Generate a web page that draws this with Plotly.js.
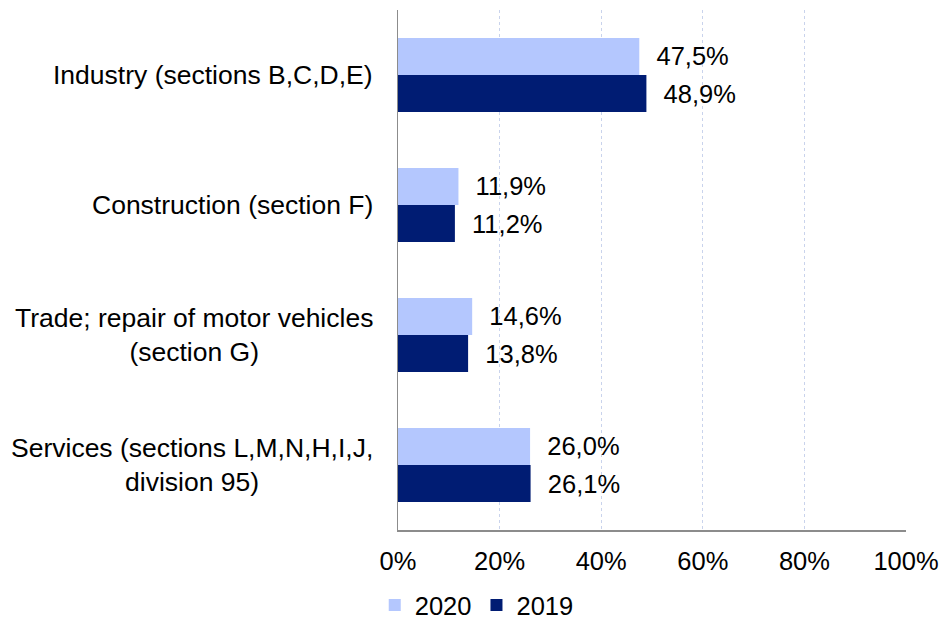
<!DOCTYPE html>
<html>
<head>
<meta charset="utf-8">
<script src="https://cdn.plot.ly/plotly-3.0.1.min.js"></script>
<style>
  html, body { margin: 0; padding: 0; background: #fff; }
  #chart { width: 944px; height: 619px; }
</style>
</head>
<body>
<div id="chart"></div>
<script>
// sectors, top to bottom
var sectors = [
  "Industry (sections B,C,D,E)",
  "Construction (section F)",
  "Trade; repair of motor vehicles<br>(section G)",
  "Services (sections L,M,N,H,I,J,<br>division 95)"
];
var share2020 = [47.5, 11.9, 14.6, 26.0];
var share2019 = [48.9, 11.2, 13.8, 26.1];

var font = "Liberation Sans, Arial, sans-serif";
var fs = 25.5;

var trace2020 = {
  name: "2020",
  type: "bar",
  orientation: "h",
  y: sectors,
  x: share2020,
  marker: {color: "#b4c7fe"},
  texttemplate: "\u00a0\u00a0%{x:.1f}%",
  textposition: "outside",
  textfont: {family: font, size: fs, color: "#000"},
  cliponaxis: false,
  hoverinfo: "skip"
};
var trace2019 = {
  name: "2019",
  type: "bar",
  orientation: "h",
  y: sectors,
  x: share2019,
  marker: {color: "#001c73"},
  texttemplate: "\u00a0\u00a0%{x:.1f}%",
  textposition: "outside",
  textfont: {family: font, size: fs, color: "#000"},
  cliponaxis: false,
  hoverinfo: "skip"
};

// category labels as centred annotations (tick labels can't be centred)
var labels = sectors.map(function (s) {
  return {
    text: s, xref: "paper", yref: "y", x: -0.045, y: s,
    xanchor: "right", yanchor: "middle", align: "center",
    showarrow: false, font: {family: font, size: 26.5, color: "#000"}
  };
});

var layout = {
  width: 944,
  height: 619,
  margin: {l: 398, r: 38, t: 10, b: 89, autoexpand: false},
  paper_bgcolor: "#fff",
  plot_bgcolor: "#fff",
  font: {family: font, size: fs, color: "#000"},
  separators: ",.",
  barmode: "group",
  bargap: 0.43,
  bargroupgap: 0,
  showlegend: true,
  legend: {
    orientation: "h", x: 0.155, xanchor: "center", y: -0.145, yanchor: "middle",
    font: {family: font, size: fs, color: "#000"},
    itemwidth: 30, tracegroupgap: 0
  },
  xaxis: {
    range: [0, 100],
    dtick: 20,
    ticksuffix: "%",
    showgrid: true,
    gridcolor: "#c9d3ec",
    griddash: "dot",
    gridwidth: 1,
    zeroline: false,
    showline: true,
    linecolor: "#8c8c8c",
    linewidth: 1.5,
    ticks: "",
    ticklabelstandoff: 8,
    fixedrange: true
  },
  yaxis: {
    autorange: "reversed",
    showticklabels: false,
    showgrid: false,
    zeroline: false,
    showline: true,
    linecolor: "#8c8c8c",
    linewidth: 1.5,
    ticks: "",
    fixedrange: true
  },
  annotations: labels
};

Plotly.newPlot("chart", [trace2020, trace2019], layout, {displayModeBar: false, staticPlot: true});
</script>
</body>
</html>
